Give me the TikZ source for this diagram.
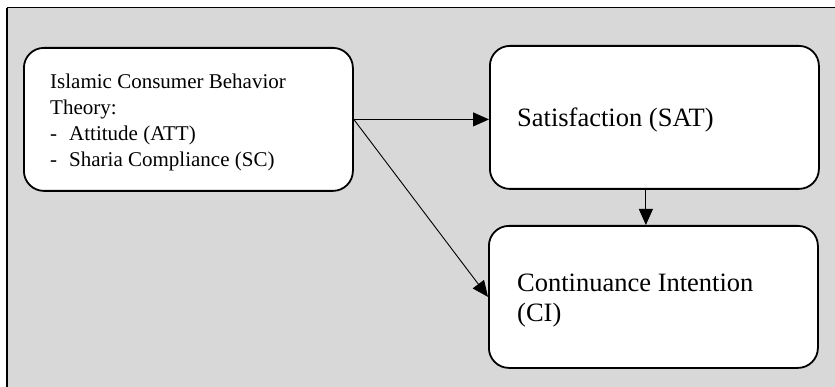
\documentclass[tikz,border=0pt]{standalone}
\usepackage{fontspec}
\setmainfont{Liberation Serif}
\usetikzlibrary{arrows.meta,calc}
\definecolor{bggray}{RGB}{216,216,216}
\tikzset{
 box/.style={draw=black, line width=1.8pt, fill=white, rounded corners=20pt, inner sep=0pt, anchor=north west},
 arr/.style={draw=black, line width=0.9pt, -{Triangle[length=16pt,width=14pt]}},
 smalltxt/.style={inner sep=0pt, anchor=base west, font=\fontsize{21}{25.7}\selectfont},
 bigtxt/.style={inner sep=0pt, anchor=base west, font=\fontsize{26.5}{30.5}\selectfont},
}
\begin{document}
\begin{tikzpicture}[x=1pt,y=-1pt]
\useasboundingbox (0,0) rectangle (835,387);
\clip (0,0) rectangle (835,387);
\path[fill=bggray, draw=black, line width=1pt] (7,8) rectangle (850,400);
\draw[line width=2pt] (7,8) -- (7,400);
\node[box, minimum width=329pt, minimum height=143pt] (theory) at (23,47) {};
\node[box, minimum width=329pt, minimum height=143pt] (sat) at (489,45) {};
\node[box, minimum width=329pt, minimum height=142pt] (ci) at (488,225) {};
\node[smalltxt] (theorytxt) at (50,89) {\begin{tabular}[t]{@{}l@{}}Islamic Consumer Behavior\\Theory:\\\makebox[19pt][l]{-}Attitude (ATT)\\\makebox[19pt][l]{-}Sharia Compliance (SC)\end{tabular}};
\node[bigtxt] (sattxt) at (517,127) {Satisfaction (SAT)};
\node[bigtxt] (citxt) at (517,291) {\begin{tabular}[t]{@{}l@{}}Continuance Intention\\(CI)\end{tabular}};
\draw[arr] (theory.east) -- (theory.east -| sat.west);
\draw[arr] (theory.east) -- (ci.west);
\draw[arr] ([xshift=-8.5pt]sat.south) -- ([xshift=-8.5pt]sat.south |- ci.north);
\end{tikzpicture}
\end{document}
